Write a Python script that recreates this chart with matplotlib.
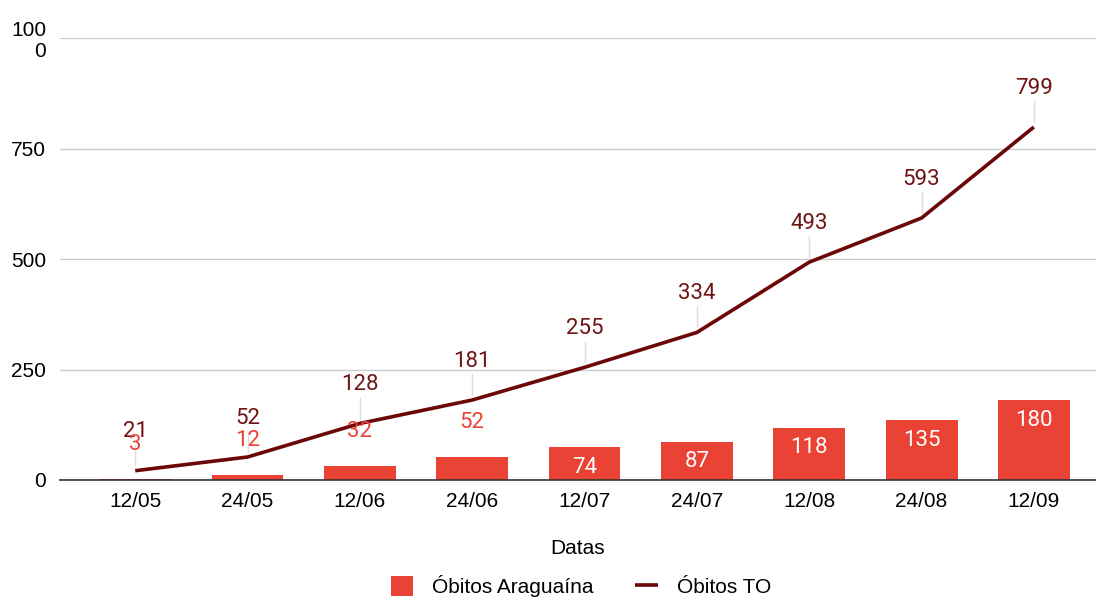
import numpy as np
import matplotlib
matplotlib.use("Agg")
import matplotlib.pyplot as plt

# data
datas = ["12/05", "24/05", "12/06", "24/06", "12/07", "24/07", "12/08", "24/08", "12/09"]
obitos_araguaina = [3, 12, 32, 52, 74, 87, 118, 135, 180]
obitos_to = [21, 52, 128, 181, 255, 334, 493, 593, 799]
yticks = [0, 250, 500, 750, 1000]
ytick_labels = ["0", "250", "500", "750", "100\n0"]

bar_color = "#EA4335"
line_color = "#6B0707"
label_line_color = "#6E1414"

plt.rcParams["font.family"] = ["Liberation Sans", "DejaVu Sans"]

fig = plt.figure(figsize=(10.96, 5.97), dpi=100)
ax = fig.add_axes([0.0547, 0.196, 0.945, 0.740])

x = np.arange(len(datas))
bars = ax.bar(x, obitos_araguaina, width=0.64, color=bar_color, zorder=2)
line, = ax.plot(x, obitos_to, color=line_color, lw=2.6, zorder=3,
                solid_capstyle="butt")

# line labels with small leader lines
for xi, v in zip(x, obitos_to):
    ax.plot([xi, xi], [v + 12, v + 58], color="#dddddd", lw=1, zorder=1)
    ax.text(xi, v + 88, str(v), ha="center", va="center", fontsize=16,
            color=label_line_color, family="Roboto", zorder=4)

# bar labels: above small bars, inside larger ones
for xi, v in zip(x, obitos_araguaina):
    if v < 60:
        ax.text(xi, v + 77, str(v), ha="center", va="center", fontsize=16,
                color=bar_color, family="Roboto", zorder=4)
    else:
        ax.text(xi, v - 45, str(v), ha="center", va="center", fontsize=16,
                color="white", family="Roboto", zorder=4)

ax.set_xlim(-0.67, 8.55)
ax.set_ylim(0, 1000)
ax.set_yticks(yticks)
ax.set_yticklabels(ytick_labels, fontsize=15, linespacing=1.1)
ax.set_xticks(x)
ax.set_xticklabels(datas, fontsize=15)
ax.tick_params(length=0, pad=9)
ax.tick_params(axis="y", pad=10)
ax.grid(axis="y", color="#cccccc", lw=1, zorder=0)
ax.set_axisbelow(True)
for s in ["top", "right", "left"]:
    ax.spines[s].set_visible(False)
ax.spines["bottom"].set_color("#333333")
ax.spines["bottom"].set_linewidth(1.2)
ax.spines["bottom"].set_zorder(5)

ax.set_xlabel("Datas", fontsize=15, labelpad=20)

fig.legend([bars, line], ["Óbitos Araguaína", "Óbitos TO"],
           loc="lower center", bbox_to_anchor=(0.53, -0.032), ncol=2,
           frameon=False, fontsize=15, handlelength=1.1, handleheight=1.1,
           columnspacing=2.0, handletextpad=0.9)

fig.savefig("out.png", dpi=100)
